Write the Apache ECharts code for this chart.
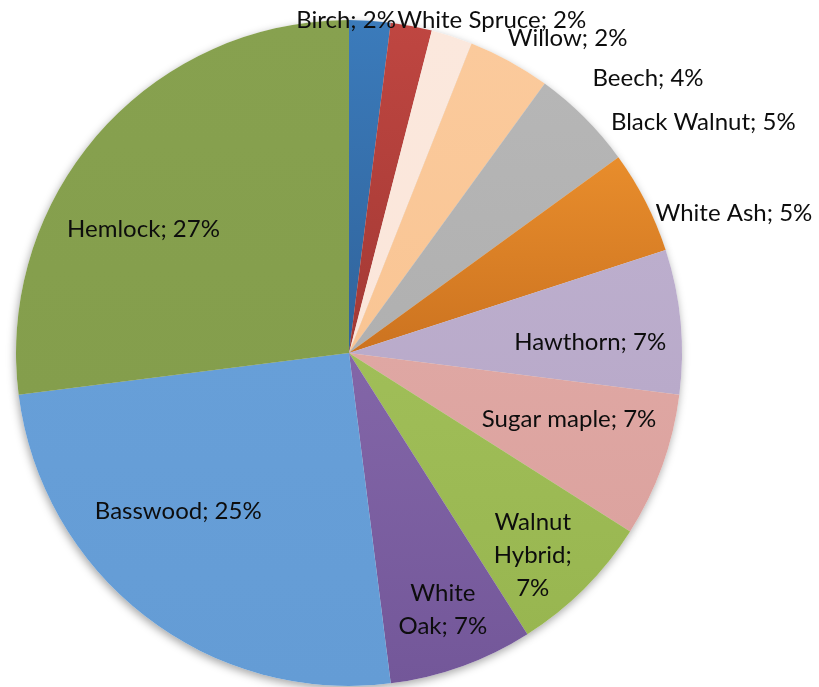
<!DOCTYPE html>
<html>
<head>
<meta charset="utf-8">
<title>Tree species share</title>
<script src="https://cdn.jsdelivr.net/npm/echarts@6/dist/echarts.min.js"></script>
<style>
  html, body { margin: 0; padding: 0; background: #ffffff; }
  #chart { width: 819px; height: 687px; }
</style>
</head>
<body>
<div id="chart"></div>
<script>
// Species, clockwise from twelve o'clock
const species = ['Birch', 'White Spruce', 'Willow', 'Beech', 'Black Walnut', 'White Ash',
                 'Hawthorn', 'Sugar maple', 'Walnut Hybrid', 'White Oak', 'Basswood', 'Hemlock'];
// Share of trees, percent
const shares = [2, 2, 2, 4, 5, 5, 7, 7, 7, 7, 25, 27];

// Slice fills: [top, bottom] of a soft vertical shade
const sliceColors = {
  'Birch':         ['#3b7bbb', '#30639b'],
  'White Spruce':  ['#bf4641', '#a33934'],
  'Willow':        ['#fbe8dd', '#fbe6da'],
  'Beech':         ['#fbca9c', '#f9c594'],
  'Black Walnut':  ['#b6b6b6', '#b0b0b0'],
  'White Ash':     ['#e88d2c', '#cc7320'],
  'Hawthorn':      ['#bcaecd', '#b9aaca'],
  'Sugar maple':   ['#dfa7a3', '#dca39f'],
  'Walnut Hybrid': ['#a0be58', '#98b650'],
  'White Oak':     ['#8366a8', '#735799'],
  'Basswood':      ['#679fd8', '#649cd5'],
  'Hemlock':       ['#87a14f', '#849e4c']
};

// Label wrapping for the narrow slices
const labelWrap = {
  'Walnut Hybrid': 'Walnut\nHybrid;\n',
  'White Oak': 'White\nOak; '
};

// Label anchor: distance from centre as a fraction of the radius,
// and a turn (degrees) away from the slice's middle direction
const labelPlacement = {
  'Birch':         { r: 1.00,  turn: -4.1 },
  'White Spruce':  { r: 1.088, turn: 12.4 },
  'Willow':        { r: 1.15,  turn: 16.8 },
  'Beech':         { r: 1.22,  turn: 18.6 },
  'Black Walnut':  { r: 1.27,  turn: 11.9 },
  'White Ash':     { r: 1.23,  turn: 7.0 },
  'Hawthorn':      { r: 0.725, turn: 2.8 },
  'Sugar maple':   { r: 0.69,  turn: -3.1 },
  'Walnut Hybrid': { r: 0.82,  turn: 2.7 },
  'White Oak':     { r: 0.82,  turn: -0.3 },
  'Basswood':      { r: 0.70,  turn: 9.3 },
  'Hemlock':       { r: 0.72,  turn: -10.4 }
};

const CX = 349, CY = 353, R = 333;

const total = shares.reduce((a, b) => a + b, 0);
const midAngles = [];
let acc = 0;
shares.forEach(v => {
  midAngles.push((acc + v / 2) / total * 360);
  acc += v;
});

const pieData = species.map((name, i) => ({
  name: name,
  value: shares[i],
  itemStyle: {
    color: new echarts.graphic.LinearGradient(0, 0, 0, 1, [
      { offset: 0, color: sliceColors[name][0] },
      { offset: 1, color: sliceColors[name][1] }
    ])
  }
}));

const chart = echarts.init(document.getElementById('chart'), null, { renderer: 'canvas' });

chart.setOption({
  animation: false,
  backgroundColor: '#ffffff',
  series: [
    {
      // soft drop shadow under the disc
      type: 'pie',
      silent: true,
      center: [CX, CY],
      radius: [0, R],
      startAngle: 90,
      clockwise: true,
      data: species.map((name, i) => ({ name: name, value: shares[i] })),
      itemStyle: {
        color: '#ffffff',
        shadowBlur: 9,
        shadowOffsetX: -1,
        shadowOffsetY: 3,
        shadowColor: 'rgba(0,0,0,0.35)'
      },
      label: { show: false },
      labelLine: { show: false }
    },
    {
      type: 'pie',
      center: [CX, CY],
      radius: [0, R],
      startAngle: 90,
      clockwise: true,
      avoidLabelOverlap: false,
      data: pieData,
      itemStyle: { borderWidth: 0 },
      label: {
        show: true,
        position: 'inside',
        color: '#0d0d0d',
        fontFamily: 'Lato',
        fontSize: 24,
        lineHeight: 33,
        align: 'center',
        formatter: p => (labelWrap[p.name] || (p.name + '; ')) + p.value + '%'
      },
      labelLine: { show: false },
      labelLayout: params => {
        const i = params.dataIndex;
        const place = labelPlacement[species[i]];
        const a = (midAngles[i] + place.turn) * Math.PI / 180;
        return {
          x: CX + R * place.r * Math.sin(a),
          y: CY - R * place.r * Math.cos(a),
          align: 'center',
          verticalAlign: 'middle',
          hideOverlap: false
        };
      }
    }
  ]
});
</script>
</body>
</html>
